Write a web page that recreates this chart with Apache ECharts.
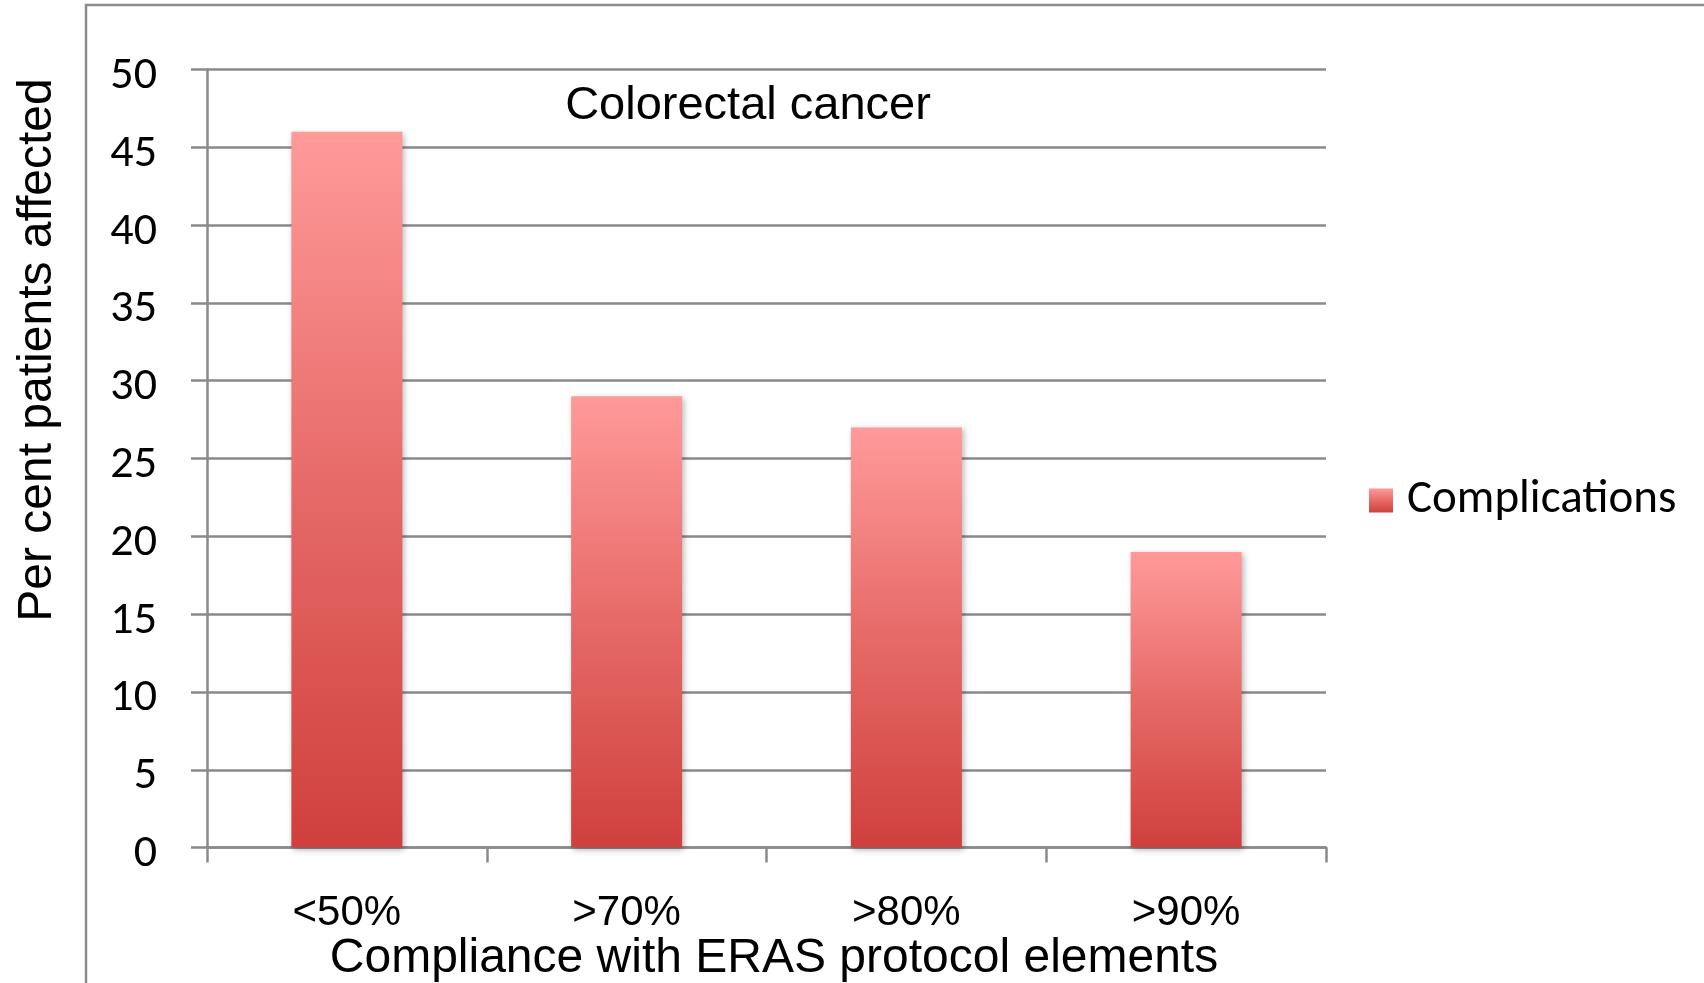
<!DOCTYPE html>
<html>
<head>
<meta charset="utf-8">
<script src="https://cdn.jsdelivr.net/npm/echarts@6/dist/echarts.min.js"></script>
<style>
  html, body { margin: 0; padding: 0; background: #ffffff; }
  #chart { width: 1704px; height: 983px; }
</style>
</head>
<body>
<div id="chart"></div>
<script>
// Complication rates by level of compliance with ERAS protocol elements
const categories = ['<50%', '>70%', '>80%', '>90%'];
const complications = [46, 29, 27, 19];
const seriesName = 'Complications';
const panelLabel = 'Colorectal cancer';
const xTitle = 'Compliance with ERAS protocol elements';
const yTitle = 'Per cent patients affected';
const yMin = 0, yMax = 50, yStep = 5;

const gridGray = '#8a8a8a';
const arial = '"Liberation Sans", Arial, sans-serif';
const calibri = 'Carlito, Calibri, Lato, sans-serif';

const barFill = new echarts.graphic.LinearGradient(0, 0, 0, 1, [
  { offset: 0, color: '#ff9a9a' },
  { offset: 0.5, color: '#e66a67' },
  { offset: 1, color: '#cf403d' }
]);

const chart = echarts.init(document.getElementById('chart'), null, { renderer: 'canvas' });

chart.setOption({
  backgroundColor: '#ffffff',
  animation: false,
  grid: { left: 207, right: 378, top: 69.5, bottom: 135.4, containLabel: false },
  legend: {
    data: [seriesName],
    left: 1364,
    top: 472,
    icon: 'rect',
    itemWidth: 24,
    itemHeight: 24,
    textStyle: { fontFamily: calibri, fontSize: 47, color: '#000', padding: [0, 0, 14, 9] }
  },
  xAxis: {
    type: 'category',
    data: categories,
    boundaryGap: true,
    axisLine: { show: true, lineStyle: { color: gridGray, width: 2.5 } },
    axisTick: { show: true, length: 15, alignWithLabel: false, lineStyle: { color: gridGray, width: 2.5 } },
    axisLabel: { color: '#000', fontFamily: arial, fontSize: 42, margin: 45 }
  },
  yAxis: {
    type: 'value',
    min: yMin,
    max: yMax,
    interval: yStep,
    axisLine: { show: true, lineStyle: { color: gridGray, width: 2.5 } },
    axisTick: { show: true, length: 16, lineStyle: { color: gridGray, width: 2.5 } },
    splitLine: { show: true, lineStyle: { color: gridGray, width: 2.5 } },
    axisLabel: {
      color: '#000',
      margin: 50,
      formatter: '{v|{value}}',
      rich: { v: { fontFamily: calibri, fontSize: 46, color: '#000', padding: [14, 0, 0, 0] } }
    }
  },
  series: [{
    name: seriesName,
    type: 'bar',
    data: complications,
    barWidth: 111,
    itemStyle: {
      color: barFill,
      shadowColor: 'rgba(0,0,0,0.28)',
      shadowBlur: 6,
      shadowOffsetX: 2,
      shadowOffsetY: 2
    }
  }],
  graphic: [
    {
      type: 'rect',
      z: -1,
      silent: true,
      shape: { x: 86, y: 5, width: 2000, height: 2000 },
      style: { fill: 'none', stroke: gridGray, lineWidth: 2.5 }
    },
    {
      type: 'text',
      x: 748,
      y: 106,
      style: { text: panelLabel, font: '47px ' + arial, fill: '#000', align: 'center', verticalAlign: 'middle' }
    },
    {
      type: 'text',
      x: 774,
      y: 959,
      style: { text: xTitle, font: '48px ' + arial, fill: '#000', align: 'center', verticalAlign: 'middle' }
    },
    {
      type: 'text',
      x: 38,
      y: 350,
      rotation: Math.PI / 2,
      style: { text: yTitle, font: '48px ' + arial, fill: '#000', align: 'center', verticalAlign: 'middle' }
    }
  ]
});
</script>
</body>
</html>
